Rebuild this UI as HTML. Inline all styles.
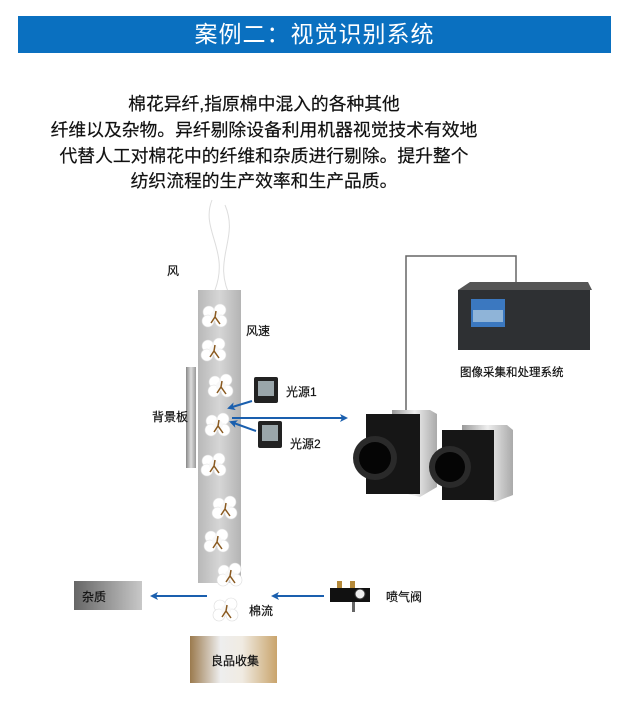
<!DOCTYPE html>
<html><head><meta charset="utf-8"><style>
body{margin:0;width:627px;height:728px;background:#fff;overflow:hidden;position:relative;font-family:"Liberation Sans","Noto Sans CJK SC",sans-serif}
.hd{position:absolute;left:18px;top:16px;width:593px;height:37px;background:#0a70c0;color:#fff;font-size:23px;text-align:center;line-height:37px;letter-spacing:1px}
.p{position:absolute;left:0;top:92px;width:528px;text-align:center;font-size:17.8px;line-height:25.8px;color:#111;-webkit-text-stroke:0.2px #111}
.t{position:absolute;font-size:12px;color:#111;white-space:nowrap;-webkit-text-stroke:0.2px #111}
</style></head><body>
<div class="hd">案例二：视觉识别系统</div>
<div class="p">棉花异纤,指原棉中混入的各种其他<br>纤维以及杂物。异纤剔除设备利用机器视觉技术有效地<br>代替人工对棉花中的纤维和杂质进行剔除。提升整个<br>纺织流程的生产效率和生产品质。</div>
<svg width="627" height="728" style="position:absolute;left:0;top:0">
<defs>
<linearGradient id="tube" x1="0" x2="1"><stop offset="0" stop-color="#b8b8b8"/><stop offset=".5" stop-color="#d6d6d6"/><stop offset="1" stop-color="#b4b4b4"/></linearGradient>
<linearGradient id="brd" x1="0" x2="1"><stop offset="0" stop-color="#888"/><stop offset=".5" stop-color="#ddd"/><stop offset="1" stop-color="#999"/></linearGradient>
<linearGradient id="zz" x1="0" x2="1"><stop offset="0" stop-color="#666"/><stop offset="1" stop-color="#c8c8c8"/></linearGradient>
<linearGradient id="lp" x1="0" x2="1"><stop offset="0" stop-color="#9b7a4e"/><stop offset=".35" stop-color="#eee"/><stop offset=".6" stop-color="#f0ebe2"/><stop offset="1" stop-color="#c9a46c"/></linearGradient>
<linearGradient id="side" x1="0" x2="1"><stop offset="0" stop-color="#999"/><stop offset=".5" stop-color="#eee"/><stop offset="1" stop-color="#aaa"/></linearGradient>
<g id="c"><circle cx="-6" cy="-3" r="6" fill="#fff" stroke="#ddd" stroke-width=".6"/><circle cx="5" cy="-5" r="6" fill="#fff" stroke="#ddd" stroke-width=".6"/><circle cx="-7" cy="6" r="6" fill="#fff" stroke="#ddd" stroke-width=".6"/><circle cx="6" cy="6" r="6" fill="#fff" stroke="#ddd" stroke-width=".6"/><circle cx="0" cy="1" r="5" fill="#f8f8f8"/><path d="M-4 8 L0 2 L5 9 M0 2 L1 -4" stroke="#8a5a20" stroke-width="1.5" fill="none"/></g>
<marker id="a" markerWidth="8" markerHeight="8" refX="6" refY="4" orient="auto" markerUnits="userSpaceOnUse"><path d="M0 0 L8 4 L0 8 L2 4Z" fill="#1a5fae"/></marker>
</defs>
<path d="M212 200 C200 230 230 250 215 290 M225 205 C240 240 210 260 232 300" stroke="#ddd" fill="none"/>
<rect x="198" y="290" width="43" height="293" fill="url(#tube)"/>
<rect x="186" y="367" width="10" height="101" fill="url(#brd)"/>
<use href="#c" x="215" y="315"/><use href="#c" x="214" y="349"/><use href="#c" x="221" y="385"/><use href="#c" x="218" y="424"/><use href="#c" x="214" y="464"/><use href="#c" x="225" y="507"/><use href="#c" x="217" y="540"/><use href="#c" x="230" y="574"/><use href="#c" x="226" y="609"/>
<g fill="#222"><rect x="254" y="377" width="24" height="26" rx="2"/><rect x="258" y="421" width="24" height="27" rx="2"/></g>
<g fill="#9aa6aa"><rect x="258" y="381" width="16" height="15"/><rect x="262" y="425" width="16" height="16"/></g>
<g stroke="#1a5fae" stroke-width="2" fill="none">
<line x1="252" y1="401" x2="229" y2="408" marker-end="url(#a)"/>
<line x1="256" y1="431" x2="231" y2="422" marker-end="url(#a)"/>
<line x1="232" y1="418" x2="346" y2="418" marker-end="url(#a)"/>
<line x1="207" y1="596" x2="152" y2="596" marker-end="url(#a)"/>
<line x1="324" y1="596" x2="273" y2="596" marker-end="url(#a)"/>
</g>
<path d="M406 412 V256 H516 V290" stroke="#666" stroke-width="1.5" fill="none"/>
<polygon points="458,290 470,282 588,282 592,290" fill="#555"/>
<rect x="458" y="290" width="132" height="60" fill="#2e3033"/>
<rect x="471" y="299" width="34" height="28" fill="#3b78c0"/>
<rect x="473" y="310" width="30" height="12" fill="#8fb4d8"/>
<!-- camera 1 -->
<polygon points="392,410 430,410 437,414 437,487 420,497 392,490" fill="url(#side)"/>
<rect x="366" y="414" width="54" height="80" fill="#161616"/>
<circle cx="375" cy="458" r="22" fill="#2a2a2a"/><circle cx="375" cy="458" r="16" fill="#050505"/>
<!-- camera 2 -->
<polygon points="462,425 507,425 513,430 513,495 495,502 462,495" fill="url(#side)"/>
<rect x="442" y="430" width="52" height="70" fill="#161616"/>
<circle cx="450" cy="467" r="21" fill="#2a2a2a"/><circle cx="450" cy="467" r="15" fill="#050505"/>
<rect x="74" y="581" width="68" height="29" fill="url(#zz)"/>
<rect x="190" y="636" width="87" height="47" fill="url(#lp)"/>
<rect x="330" y="588" width="40" height="14" fill="#111"/><circle cx="360" cy="594" r="5" fill="#eee" stroke="#333"/><rect x="352" y="602" width="3" height="10" fill="#666"/><rect x="337" y="581" width="5" height="7" fill="#b58a3a"/><rect x="350" y="581" width="5" height="7" fill="#b58a3a"/>
</svg>
<div class="t" style="left:167px;top:262px">风</div>
<div class="t" style="left:246px;top:322px">风速</div>
<div class="t" style="left:286px;top:383px">光源1</div>
<div class="t" style="left:290px;top:435px">光源2</div>
<div class="t" style="left:152px;top:408px">背景板</div>
<div class="t" style="left:460px;top:364px;font-size:11.5px">图像采集和处理系统</div>
<div class="t" style="left:82px;top:588px">杂质</div>
<div class="t" style="left:249px;top:602px">棉流</div>
<div class="t" style="left:386px;top:588px">喷气阀</div>
<div class="t" style="left:211px;top:652px">良品收集</div>
</body></html>
